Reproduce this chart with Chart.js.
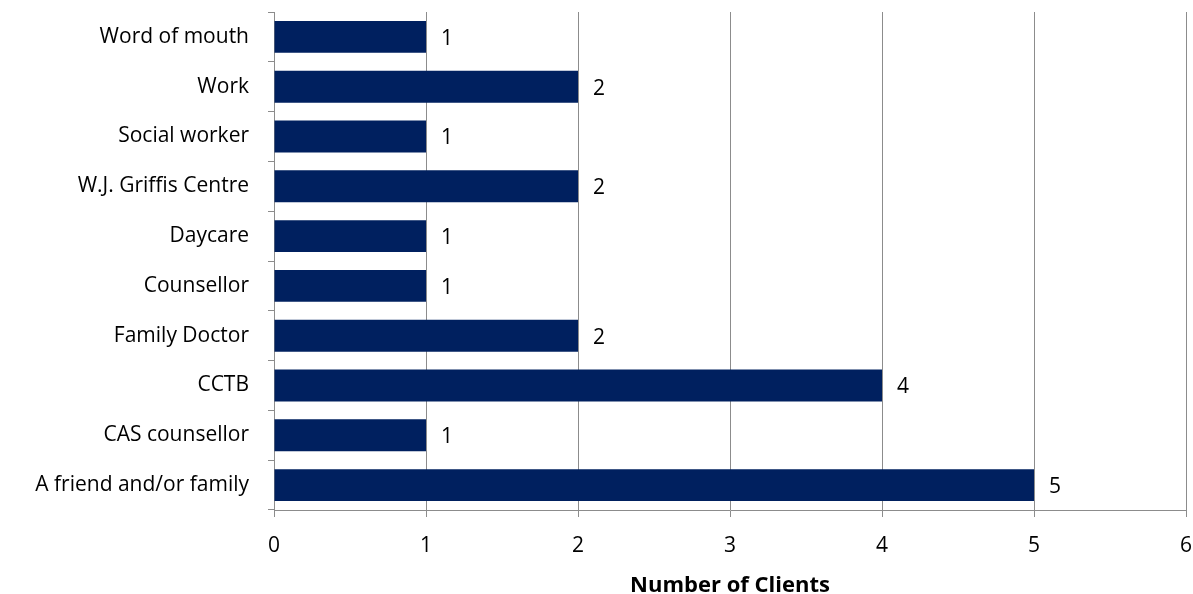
<!DOCTYPE html>
<html lang="en">
<head>
  <meta charset="UTF-8" />
  <title>Referral Sources</title>
  <script src="https://cdn.jsdelivr.net/npm/chart.js"></script>
  <style>
    html, body { margin: 0; padding: 0; background: #fff; }
    #referrals { display: block; }
  </style>
</head>
<body>
  <canvas id="referrals" width="1193" height="594"></canvas>

  <script>
    // referral sources, top to bottom
    const sources = [
      "Word of mouth",
      "Work",
      "Social worker",
      "W.J. Griffis Centre",
      "Daycare",
      "Counsellor",
      "Family Doctor",
      "CCTB",
      "CAS counsellor",
      "A friend and/or family"
    ];
    const clients = [1, 2, 1, 2, 1, 1, 2, 4, 1, 5];
    const xTicks = [0, 1, 2, 3, 4, 5, 6];

    const FONT = "'Open Sans', sans-serif";
    const GRID = "#8c8c8c";

    // value text just past the end of each bar
    const valueLabels = {
      id: "valueLabels",
      afterDatasetsDraw(chart) {
        const ctx = chart.ctx;
        const meta = chart.getDatasetMeta(0);
        ctx.save();
        ctx.font = "21px " + FONT;
        ctx.fillStyle = "#000";
        ctx.textAlign = "left";
        ctx.textBaseline = "middle";
        meta.data.forEach((bar, i) => {
          ctx.fillText(String(clients[i]), bar.x + 15, bar.y + 2);
        });
        ctx.restore();
      }
    };

    new Chart(document.getElementById("referrals"), {
      type: "bar",
      data: {
        labels: sources,
        datasets: [{
          data: clients,
          backgroundColor: "#00205f",
          borderWidth: 0,
          barPercentage: 0.64,
          categoryPercentage: 1
        }]
      },
      options: {
        indexAxis: "y",
        responsive: false,
        animation: false,
        layout: { padding: { left: 0, right: 7, top: 12, bottom: 0 } },
        plugins: {
          legend: { display: false },
          tooltip: { enabled: false }
        },
        scales: {
          y: {
            offset: true,
            afterFit: (scale) => {
              scale.width = 274;
              scale.paddingTop = 0;
              scale.paddingBottom = 0;
            },
            border: { display: true, color: GRID, width: 1 },
            grid: {
              offset: true,
              drawOnChartArea: false,
              drawTicks: true,
              tickLength: 6,
              color: GRID
            },
            ticks: {
              color: "#000",
              padding: 19,
              font: { family: FONT, size: 21 }
            }
          },
          x: {
            min: 0,
            max: 6,
            afterFit: (scale) => {
              scale.height = 84;
              scale.paddingLeft = 0;
              scale.paddingRight = 0;
            },
            afterBuildTicks: (scale) => {
              scale.ticks = xTicks.map(v => ({ value: v }));
            },
            border: { display: true, color: GRID, width: 1 },
            grid: {
              color: GRID,
              lineWidth: 1,
              tickLength: 7
            },
            ticks: {
              color: "#000",
              padding: 16,
              font: { family: FONT, size: 21 }
            },
            title: {
              display: true,
              text: "Number of Clients",
              color: "#000",
              padding: { top: 8, bottom: -5 },
              font: { family: FONT, size: 22, weight: "bold" }
            }
          }
        }
      },
      plugins: [valueLabels]
    });
  </script>
</body>
</html>
